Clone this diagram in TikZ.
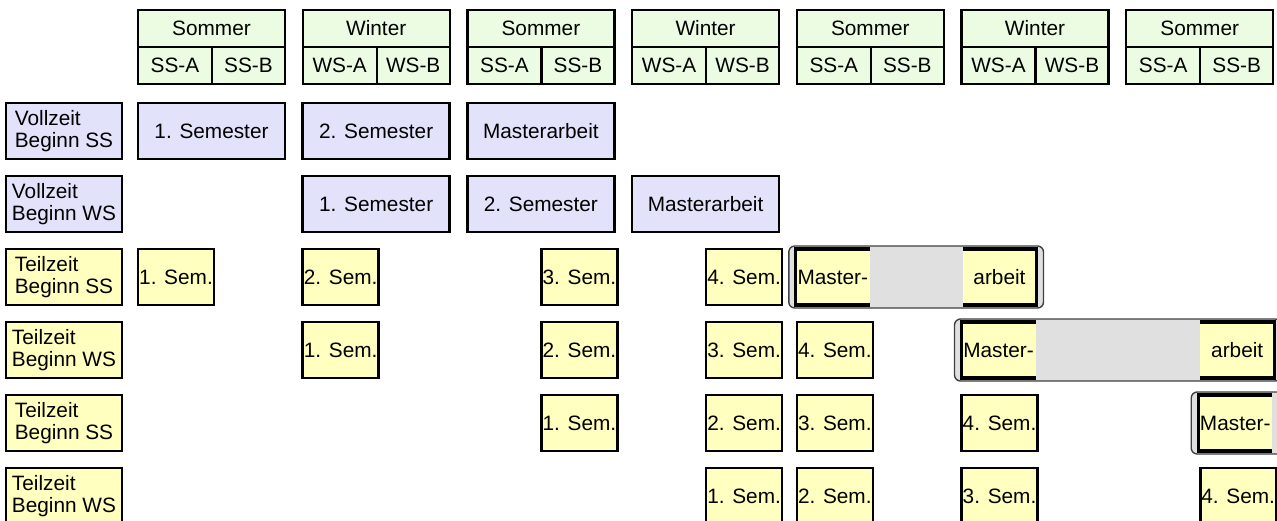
\documentclass[tikz,border=0pt]{standalone}
\usepackage{fontspec}
\setmainfont{Liberation Sans}
\usetikzlibrary{fit,backgrounds}
\definecolor{hdrgreen}{RGB}{236,252,226}
\definecolor{lavender}{RGB}{226,226,251}
\definecolor{paleyellow}{RGB}{255,255,192}
\definecolor{groupgray}{RGB}{224,224,224}
\tikzset{
  every node/.style={font=\fontsize{20.8}{21.7}\selectfont, inner sep=0pt, outer sep=0pt},
  hdrbox/.style={draw=black, line width=2.2pt, fill=hdrgreen, minimum height=37pt},
  lbl/.style={draw=black, line width=2.6pt, align=left, minimum width=116pt, minimum height=56pt},
  vlbl/.style={lbl, fill=lavender},
  tlbl/.style={lbl, fill=paleyellow},
  vbox/.style={draw=black, line width=2.6pt, fill=lavender, minimum width=147pt, minimum height=56pt},
  tbox/.style={draw=black, line width=2.6pt, fill=paleyellow, minimum width=76pt, minimum height=56pt},
  mpart/.style={fill=paleyellow, minimum width=74pt, minimum height=56pt},
  mborder/.style={line width=3.2pt, black},
  grp/.style={draw=black!75, line width=1.4pt, fill=groupgray, rounded corners=6pt, inner xsep=7pt, inner ysep=3pt},
}
\begin{document}
\begin{tikzpicture}[x=1pt,y=-1pt]
\clip (0,0) rectangle (1277,520);
% column starts
\def\sA{138}\def\sB{302.7}\def\sC{467.4}\def\sD{632.1}\def\sE{796.8}\def\sF{961.5}\def\sG{1126.2}
% headers
\foreach \s/\n/\a/\b [count=\i] in {138/Sommer/SS-A/SS-B, 302.7/Winter/WS-A/WS-B, 467.4/Sommer/SS-A/SS-B, 632.1/Winter/WS-A/WS-B, 796.8/Sommer/SS-A/SS-B, 961.5/Winter/WS-A/WS-B, 1126.2/Sommer/SS-A/SS-B}{
  \node[hdrbox, minimum width=147pt] (h\i) at (\s+73.5, 28.5) {\n};
  \node[hdrbox, minimum width=74pt] (h\i a) at (\s+37, 65.5) {\a};
  \node[hdrbox, minimum width=73pt] (h\i b) at (\s+110.5, 65.5) {\b};
}
% row labels
\node[vlbl] (l1) at (64,131) {Vollzeit\\Beginn SS};
\node[vlbl] (l2) at (64,204) {Vollzeit\\Beginn WS};
\node[tlbl] (l3) at (64,277) {Teilzeit\\Beginn SS};
\node[tlbl] (l4) at (64,350) {Teilzeit\\Beginn WS};
\node[tlbl] (l5) at (64,423) {Teilzeit\\Beginn SS};
\node[tlbl] (l6) at (64,496) {Teilzeit\\Beginn WS};
% Vollzeit rows
\node[vbox] (r1c1) at (\sA+73.5,131) {1. Semester};
\node[vbox] (r1c2) at (\sB+73.5,131) {2. Semester};
\node[vbox] (r1c3) at (\sC+73.5,131) {Masterarbeit};
\node[vbox] (r2c2) at (\sB+73.5,204) {1. Semester};
\node[vbox] (r2c3) at (\sC+73.5,204) {2. Semester};
\node[vbox] (r2c4) at (\sD+73.5,204) {Masterarbeit};
% Teilzeit row 3
\node[tbox] (r3s1) at (\sA+38,277) {1. Sem.};
\node[tbox] (r3s2) at (\sB+38,277) {2. Sem.};
\node[tbox] (r3s3) at (\sC+112,277) {3. Sem.};
\node[tbox] (r3s4) at (\sD+112,277) {4. Sem.};
\node[mpart] (r3m) at (\sE+36,277) {Master-};
\node[mpart] (r3a) at (\sF+38,277) {arbeit};
% Teilzeit row 4
\node[tbox] (r4s1) at (\sB+38,350) {1. Sem.};
\node[tbox] (r4s2) at (\sC+112,350) {2. Sem.};
\node[tbox] (r4s3) at (\sD+112,350) {3. Sem.};
\node[tbox] (r4s4) at (\sE+38,350) {4. Sem.};
\node[mpart] (r4m) at (\sF+37,350) {Master-};
\node[mpart] (r4a) at (\sG+111,350) {arbeit};
% Teilzeit row 5
\node[tbox] (r5s1) at (\sC+112,423) {1. Sem.};
\node[tbox] (r5s2) at (\sD+112,423) {2. Sem.};
\node[tbox] (r5s3) at (\sE+38,423) {3. Sem.};
\node[tbox] (r5s4) at (\sF+38,423) {4. Sem.};
\node[mpart] (r5m) at (\sG+109,423) {Master-};
\coordinate (r5end) at (1420,423);
% Teilzeit row 6
\node[tbox] (r6s1) at (\sD+112,496) {1. Sem.};
\node[tbox] (r6s2) at (\sE+38,496) {2. Sem.};
\node[tbox] (r6s3) at (\sF+38,496) {3. Sem.};
\node[tbox] (r6s4) at (\sG+112,496) {4. Sem.};
% groups behind the split boxes
\begin{scope}[on background layer]
  \node[grp, fit=(r3m)(r3a)] (g3) {};
  \node[grp, fit=(r4m)(r4a)] (g4) {};
  \node[grp, fit=(r5m)(r5end)] (g5) {};
\end{scope}
% open borders of split boxes
\foreach \m in {r3m,r4m,r5m}{
  \draw[mborder] (\m.north east) -- (\m.north west) -- (\m.south west) -- (\m.south east);
}
\foreach \m in {r3a,r4a}{
  \draw[mborder] (\m.north west) -- (\m.north east) -- (\m.south east) -- (\m.south west);
}
\end{tikzpicture}
\end{document}
